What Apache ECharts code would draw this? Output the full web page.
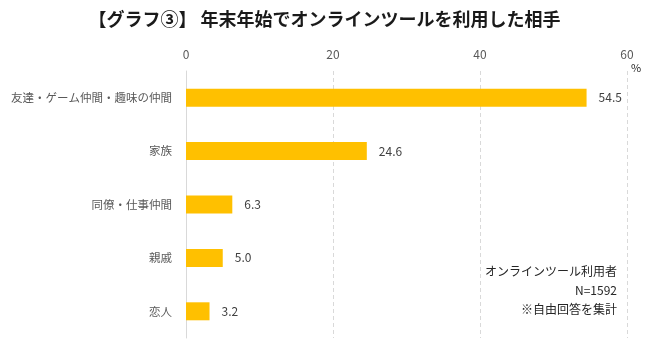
<!DOCTYPE html>
<html>
<head>
<meta charset="utf-8">
<script src="https://cdn.jsdelivr.net/npm/echarts@6/dist/echarts.min.js"></script>
<style>
  html, body { margin: 0; padding: 0; background: #fff; }
  #main { width: 649px; height: 354px; }
</style>
</head>
<body>
<div id="main"></div>
<script>
const categories = ["友達・ゲーム仲間・趣味の仲間", "家族", "同僚・仕事仲間", "親戚", "恋人"];
const values = [54.5, 24.6, 6.3, 5.0, 3.2];
const xTicks = [0, 20, 40, 60];
const noteLines = ["オンラインツール利用者", "N=1592", "※自由回答を集計"];

const font = '"Noto Sans CJK JP", "Noto Sans", sans-serif';
const chart = echarts.init(document.getElementById("main"));

const option = {
  backgroundColor: "#ffffff",
  textStyle: { fontFamily: font },
  title: {
    text: "【グラフ③】 年末年始でオンラインツールを利用した相手",
    left: "center",
    top: 5,
    textStyle: { fontFamily: font, fontSize: 18, fontWeight: "bold", color: "#1a1a1a" }
  },
  grid: { left: 186, right: 22, top: 71, bottom: 16, containLabel: false },
  xAxis: {
    type: "value",
    position: "top",
    min: xTicks[0],
    max: xTicks[xTicks.length - 1],
    interval: 20,
    axisLine: { show: false },
    axisTick: { show: false },
    axisLabel: { color: "#595959", fontSize: 12, margin: 11, fontFamily: font },
    splitLine: { show: true, lineStyle: { color: "#d9d9d9", type: [4, 3] } }
  },
  yAxis: {
    type: "category",
    inverse: true,
    data: categories,
    axisLine: { show: true, lineStyle: { color: "#d9d9d9" } },
    axisTick: { show: false },
    axisLabel: { color: "#595959", fontSize: 11.5, margin: 14, fontFamily: font }
  },
  series: [{
    type: "bar",
    data: values,
    barWidth: 18,
    itemStyle: { color: "#FFC000" },
    label: {
      show: true,
      position: "right",
      distance: 12,
      color: "#404040",
      fontSize: 12,
      fontFamily: font,
      formatter: p => p.value.toFixed(1)
    }
  }],
  graphic: [
    {
      type: "text",
      left: 631, top: 62,
      style: { text: "%", fill: "#262626", font: "11px " + font }
    },
    {
      type: "text",
      right: 32, top: 262,
      style: {
        text: noteLines.join("\n"),
        fill: "#262626",
        font: "12px " + font,
        textAlign: "right",
        lineHeight: 19
      }
    }
  ]
};

chart.setOption(option);
</script>
</body>
</html>
